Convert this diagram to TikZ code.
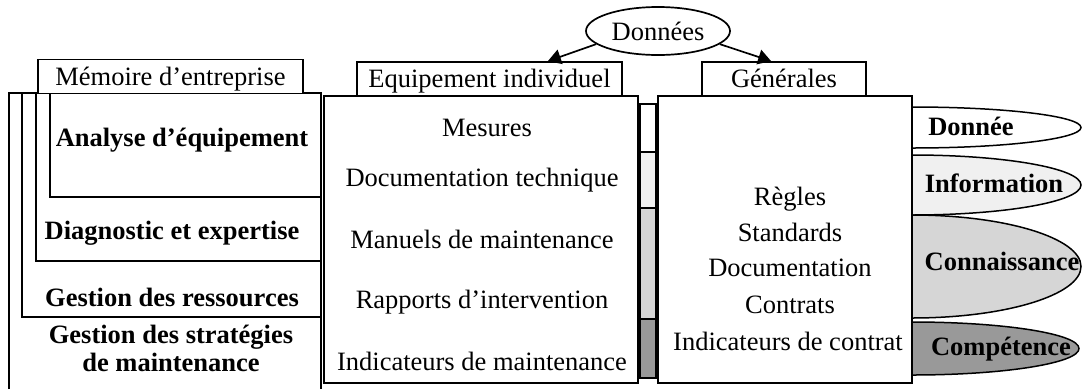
\documentclass[tikz,border=0pt]{standalone}
\usepackage{fontspec}
\setmainfont{Liberation Serif}
\usetikzlibrary{shapes.geometric,arrows.meta}
\definecolor{lightg}{gray}{0.94}
\definecolor{medg}{gray}{0.84}
\definecolor{darkg}{gray}{0.60}
\begin{document}
\begin{tikzpicture}[x=1pt,y=-1pt,
  box/.style={draw,line width=1.7pt},
  tab/.style={draw,line width=1.7pt,fill=white,inner sep=0pt,minimum height=34pt,
    text height=20pt,text depth=3pt,font=\fontsize{26.5}{30}\selectfont},
  lbl/.style={font=\fontsize{26.5}{30}\selectfont\bfseries,anchor=base,inner sep=0pt},
  txt/.style={font=\fontsize{26.5}{30}\selectfont,anchor=base,inner sep=0pt},
  lvl/.style={draw,line width=1.5pt},
  cell/.style={draw,line width=1.5pt},
  arr/.style={line width=1.7pt,-{Triangle[width=15pt,length=13pt]}},
]
\useasboundingbox (0,0) rectangle (1083,389);

% right level ellipses (drawn first, covered by the right box)
\draw[lvl,fill=white] (912,127.5) ellipse [x radius=169, y radius=20.5];
\draw[lvl,fill=lightg] (912,185) ellipse [x radius=169, y radius=30];
\draw[lvl,fill=medg] (912,266.5) ellipse [x radius=169, y radius=51.5];
\draw[lvl,fill=darkg] (912,348.5) ellipse [x radius=167, y radius=26.5];

% left nested boxes
\draw[box] (9,389) -- (9,93) -- (321,93) -- (321,389);
\draw[box] (22,93) rectangle (321,317);
\draw[box] (36,93) rectangle (321,261);
\draw[box] (50,93) rectangle (321,197);

% middle and right boxes
\draw[box,fill=white] (324,96) rectangle (638,383);
\draw[box,fill=white] (658,96) rectangle (912,383);

% strip between the boxes
\draw[cell,fill=white] (640,104) rectangle (656,152);
\draw[cell,fill=lightg] (640,152) rectangle (656,208);
\draw[cell,fill=medg] (640,208) rectangle (656,319);
\draw[cell,fill=darkg] (640,319) rectangle (656,378);

% tabs
\node[tab,minimum width=265pt] (mem) at (170.5,76.5) {Mémoire d’entreprise};
\node[tab,minimum width=265pt] (eq) at (489.5,79) {Equipement individuel};
\node[tab,minimum width=164pt] (gen) at (784,79) {Générales};

% Données ellipse and arrows
\node[ellipse,draw,line width=1.7pt,inner sep=0pt,minimum width=144pt,minimum height=48pt,
  text height=21pt,text depth=2pt,font=\fontsize{26.5}{30}\selectfont] (don) at (658,31) {Données};
\draw[arr] (don.192) -- ([xshift=-75pt]eq.north east);
\draw[arr] (don.-12) -- ([xshift=70pt]gen.north west);

% left labels
\node[lbl] (ana) at (182,146.7) {Analyse d’équipement};
\node[lbl] (dia) at (172,239) {Diagnostic et expertise};
\node[lbl] (res) at (172,306.7) {Gestion des ressources};
\node[lbl] (str1) at (171,343) {Gestion des stratégies};
\node[lbl] (str2) at (171,371.7) {de maintenance};

% middle texts
\node[txt] (m1) at (487,136.7) {Mesures};
\node[txt] (m2) at (482,186.7) {Documentation technique};
\node[txt] (m3) at (482,248.3) {Manuels de maintenance};
\node[txt] (m4) at (482,308.3) {Rapports d’intervention};
\node[txt] (m5) at (482,370.7) {Indicateurs de maintenance};

% right texts
\node[txt] (g1) at (790,205) {Règles};
\node[txt] (g2) at (790,241.7) {Standards};
\node[txt] (g3) at (790,276.7) {Documentation};
\node[txt] (g4) at (790,313.3) {Contrats};
\node[txt] (g5) at (788,350) {Indicateurs de contrat};

% level labels
\node[lbl] (l1) at (971,135) {Donnée};
\node[lbl] (l2) at (994,192.7) {Information};
\node[lbl] (l3) at (1002,270) {Connaissance};
\node[lbl] (l4) at (1001,355) {Compétence};
\end{tikzpicture}
\end{document}
